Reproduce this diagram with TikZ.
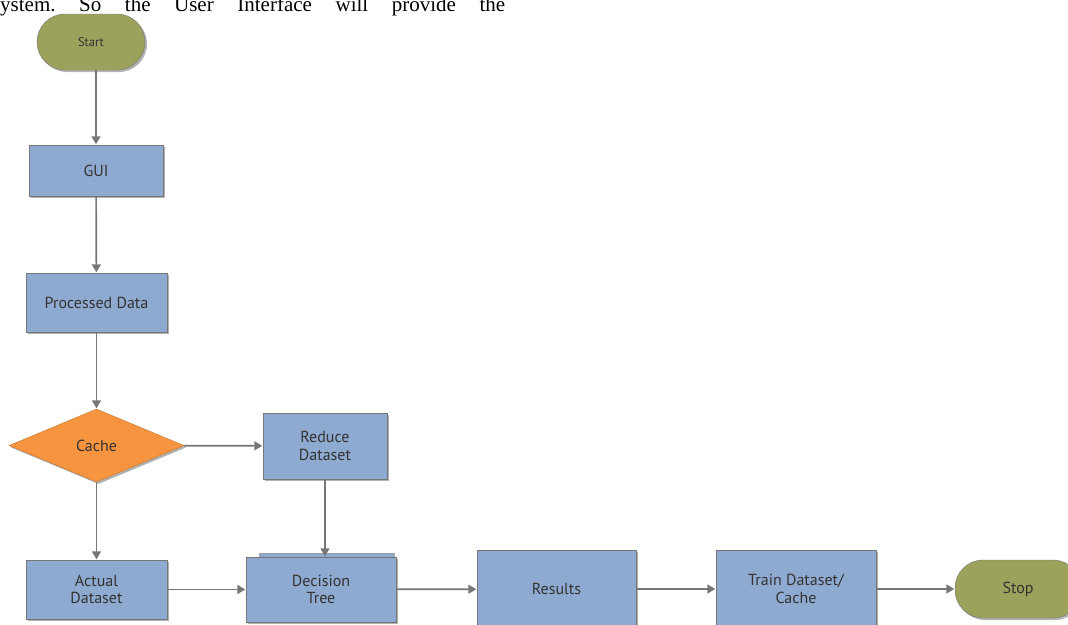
\documentclass[tikz,border=0pt]{standalone}
\usepackage{fontspec}
\setmainfont{Liberation Serif}
\setsansfont{PT Sans}
\usetikzlibrary{shapes.geometric,arrows.meta,shadows}

\definecolor{boxblue}{HTML}{8FAAD0}
\definecolor{termgreen}{HTML}{9CA15B}
\definecolor{cacheorange}{HTML}{F6943F}
\definecolor{linegray}{HTML}{767676}
\definecolor{labelgray}{HTML}{333333}

\begin{document}
\begin{tikzpicture}[x=1pt,y=-1pt,
    shade/.style={drop shadow={shadow xshift=2pt,shadow yshift=-2pt,opacity=0.3,fill=black}},
    box/.style={draw=linegray,fill=boxblue,inner sep=0pt,shade,
      font=\sffamily\fontsize{16}{17.5}\selectfont,text=labelgray,align=center},
    term/.style={box,fill=termgreen,rounded corners=28pt},
    decide/.style={box,diamond,fill=cacheorange,draw=cacheorange!80!black},
    arr/.style={draw=linegray,line width=1.7pt,
      -{Triangle[width=9pt,length=8pt]},shorten >=0.5pt}]
  \useasboundingbox (0,0) rectangle (1068,624);

  % cut-off text line of the page above
  \node[anchor=base west,inner sep=0pt,font=\fontsize{21}{24}\selectfont] (pagetext) at (0,11)
    {\hbox to 505pt{ystem.\hfill So\hfill the\hfill User\hfill Interface\hfill will\hfill provide\hfill the}};

  % flow chart
  \node[term,minimum width=108pt,minimum height=56pt,font=\sffamily\fontsize{12.5}{14}\selectfont] (start) at (91,42) {Start};
  \node[box,minimum width=134pt,minimum height=51pt] (gui) at (96,170.5) {GUI};
  \node[box,minimum width=141pt,minimum height=59pt] (proc) at (96.5,302.5) {Processed Data};
  \node[decide,minimum width=175pt,minimum height=73pt] (cache) at (96.5,445.5) {Cache};
  \node[box,minimum width=124pt,minimum height=66pt] (reduce) at (325,446) {Reduce\\Dataset};
  \node[box,minimum width=141pt,minimum height=59pt] (actual) at (96.5,589.5) {Actual\\Dataset};
  \draw[draw=linegray!70,fill=boxblue] (259,553) rectangle (394,600);
  \node[box,minimum width=150pt,minimum height=65pt] (tree) at (321,589.5) {Decision\\Tree};
  \node[box,minimum width=159pt,minimum height=78pt] (results) at (556.5,589) {Results};
  \node[box,minimum width=160pt,minimum height=78pt] (train) at (796,589) {Train Dataset/\\Cache};
  \node[term,minimum width=126pt,minimum height=58pt] (stop) at (1018,589) {Stop};

  % connectors
  \draw[arr] (gui.north |- start.south) -- (gui.north);
  \draw[arr] (gui) -- (proc);
  \draw[arr] (proc) -- (cache);
  \draw[arr] (cache) -- (actual);
  \draw[arr] (cache) -- (reduce);
  \draw[arr] (reduce.south) -- (reduce.south |- tree.north);
  \draw[arr] (actual) -- (tree);
  \draw[arr] (tree) -- (results);
  \draw[arr] (results) -- (train);
  \draw[arr] (train) -- (stop);
\end{tikzpicture}
\end{document}
